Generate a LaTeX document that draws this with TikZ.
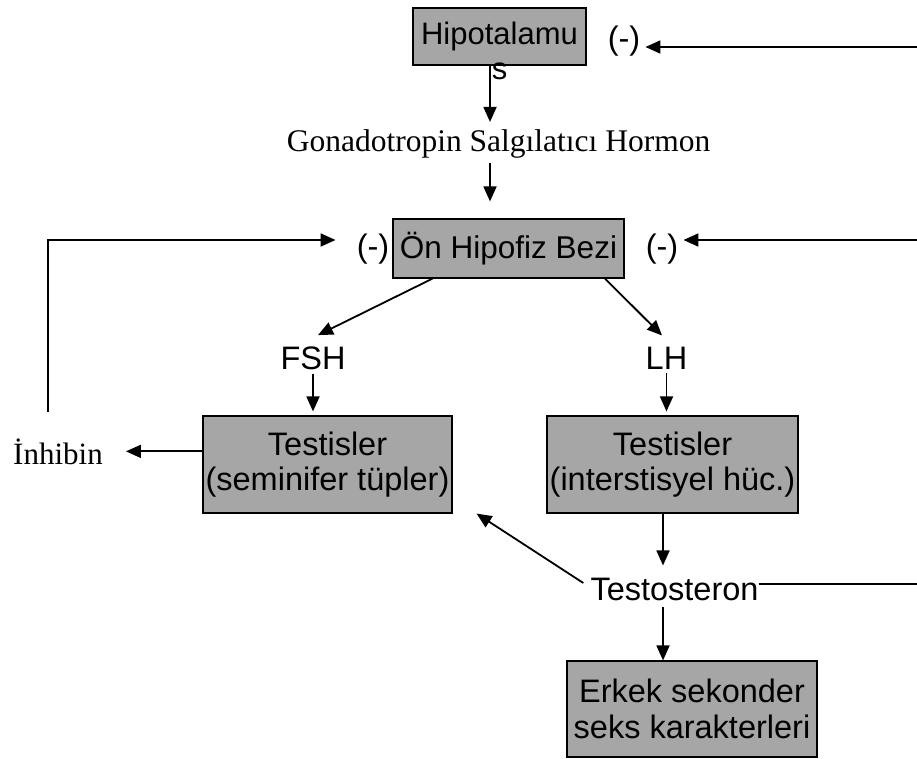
\documentclass[tikz,border=0pt]{standalone}
\usepackage{fontspec}
\setmainfont{Liberation Sans}
\newfontfamily\serifface{Liberation Serif}
\usetikzlibrary{arrows.meta}
\definecolor{boxgray}{HTML}{A6A6A6}

\begin{document}
\begin{tikzpicture}[x=1pt, y=-1pt,
    organ/.style={rectangle, draw=black, fill=boxgray, line width=1.2pt, inner sep=0pt, align=center, font=\fontsize{32.5}{35.5}\selectfont},
    hormone/.style={inner sep=0pt, font=\fontsize{32.5}{35.5}\selectfont},
    serifnote/.style={inner sep=0pt, font=\serifface\fontsize{31.5}{36}\selectfont},
    arrow/.style={-{Triangle[length=15pt, width=13pt]}, line width=1.8pt},
    feedback/.style={line width=1.2pt}
]
\useasboundingbox (0,0) rectangle (917,758);

\node[organ, minimum width=173pt, minimum height=57pt, text height=22pt, text depth=7pt, font=\fontsize{31}{35}\selectfont] (hypo) at (499.5,36.5) {\begin{tabular}[t]{@{}c@{}}Hipotalamu\\s\end{tabular}};
\node[serifnote, anchor=base] (gnrh) at (498.5,151) {Gonadotropin Salgılatıcı Hormon};
\node[organ, minimum width=231pt, minimum height=59pt, font=\fontsize{31.5}{36}\selectfont] (ono) at (508.5,248.5) {Ön Hipofiz Bezi};

\node[hormone] (hminus) at (624,41.5) {(-)};
\node[hormone] (lminus) at (373,249) {(-)};
\node[hormone] (rminus) at (662,249) {(-)};

\node[hormone, anchor=base] (fsh) at (313,369) {FSH};
\node[hormone, anchor=base] (lh) at (666.5,369) {LH};

\node[organ, minimum width=249pt, minimum height=97pt] (testa) at (327.5,464.5) {Testisler\\(seminifer tüpler)};
\node[organ, minimum width=251pt, minimum height=97pt] (testb) at (672.5,464.5) {Testisler\\(interstisyel hüc.)};
\node[serifnote, font=\serifface\fontsize{31}{36}\selectfont, anchor=base] (inh) at (58,464) {İnhibin};
\node[hormone, anchor=base] (testo) at (674.5,600) {Testosteron};
\node[organ, minimum width=250pt, minimum height=96pt] (erkek) at (692,709) {Erkek sekonder\\seks karakterleri};

% free ends of the feedback lines
\coordinate (gx) at (490,0);
\coordinate (tx) at (663,0);
\coordinate (rtop) at (917,47);
\coordinate (rmid) at (917,240);
\coordinate (rbot) at (917,584);
\coordinate (lbot) at (48,412);
\coordinate (lcorner) at (48,240);

\draw[arrow, shorten >=7pt] (hypo.south -| gx) -- (gnrh.north -| gx);
\draw[arrow, shorten <=5pt, shorten >=17pt] (gnrh.south -| gx) -- (ono.north -| gx);
\draw[arrow, shorten >=5pt] (rtop) -- (hminus.east |- rtop);
\draw[arrow, shorten >=5pt] (rmid) -- (rminus.east |- rmid);
\draw[arrow, shorten >=21pt] (lbot) -- (lcorner) -- (lminus.west |- lcorner);

\draw[arrow] ([xshift=-76pt]ono.south) -- ([xshift=5pt,yshift=11pt]fsh.north);
\draw[arrow] ([xshift=96.5pt]ono.south) -- ([xshift=-4.5pt,yshift=11pt]lh.north);
\draw[arrow, shorten <=4pt, shorten >=4pt] (fsh.south) -- (fsh.south |- testa.north);
\draw[arrow, shorten <=4pt, shorten >=4pt] (lh.south) -- (lh.south |- testb.north);

\draw[arrow, shorten >=23pt] (testa.west |- inh) -- (inh.east);
\draw[arrow, shorten >=12pt] (testb.south -| tx) -- (testo.north -| tx);
\draw[arrow, shorten <=6pt] (testo.south -| tx) -- (erkek.north -| tx);
\draw[arrow] ([xshift=-7pt,yshift=6pt]testo.west) -- ([xshift=24pt]testa.south east);
\draw[feedback] (testo.east |- rbot) -- (rbot);
\end{tikzpicture}
\end{document}
